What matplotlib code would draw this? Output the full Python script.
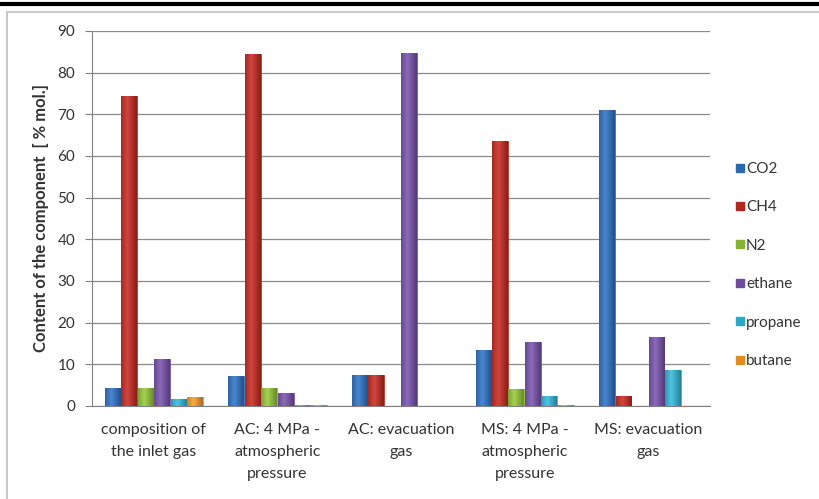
import numpy as np
import matplotlib
matplotlib.use("Agg")
import matplotlib.pyplot as plt
from matplotlib.colors import to_rgb
from matplotlib.lines import Line2D

plt.rcParams['font.family'] = ['Lato', 'DejaVu Sans']

categories = ["composition of\nthe inlet gas", "AC: 4 MPa -\natmospheric\npressure",
              "AC: evacuation\ngas", "MS: 4 MPa -\natmospheric\npressure",
              "MS: evacuation\ngas"]
components = ["CO2", "CH4", "N2", "ethane", "propane", "butane"]

co2 = [4.4, 7.3, 7.4, 13.4, 71.0]
ch4 = [74.5, 84.5, 7.4, 63.5, 2.5]
n2 = [4.2, 4.3, 0.0, 4.0, 0.0]
ethane = [11.2, 3.1, 84.6, 15.3, 16.5]
propane = [1.6, 0.2, 0.0, 2.4, 8.7]
butane = [2.1, 0.2, 0.0, 0.2, 0.0]

series = [co2, ch4, n2, ethane, propane, butane]
colors = ["#2a68b2", "#b3271f", "#86b431", "#6d4c9c", "#2fa6c2", "#e38a26"]

fig = plt.figure(figsize=(8.2, 4.99), dpi=100)
ax = fig.add_axes([0.1122, 0.1864, 0.7537, 0.7515])

x = np.arange(len(categories))
w = 0.8 / len(series)

# soft cylinder-like shading across each bar
grad = np.linspace(0, 1, 64)
shade = np.clip(1 - np.abs(grad - 0.4) * 1.7, 0, 1)

for i, (vals, col) in enumerate(zip(series, colors)):
    xs = x - 0.4 + w * i + w / 2
    bars = ax.bar(xs, vals, width=w * 0.96, color=col, edgecolor=col,
                  linewidth=0.5, zorder=3)
    base = np.array(to_rgb(col))
    light = np.clip(base + 0.12, 0, 1)
    dark = base * 0.78
    img = np.zeros((1, 64, 3))
    for k, s in enumerate(shade):
        img[0, k] = dark + (light - dark) * s
    for b in bars:
        h = b.get_height()
        if h <= 0:
            continue
        im = ax.imshow(img, extent=[b.get_x(), b.get_x() + b.get_width(), 0, h],
                       aspect='auto', zorder=4, interpolation='bilinear')
        im.set_clip_path(b)

ax.set_xlim(-0.5, len(categories) - 0.5)
ax.set_ylim(0, 90)
ax.set_yticks(np.arange(0, 91, 10))
ax.set_xticks(x)
ax.set_xticklabels(categories, fontsize=11.5, color="#333333", linespacing=1.75)
ax.tick_params(axis='x', length=0, pad=12)
ax.tick_params(axis='y', labelsize=11, colors="#333333", length=5,
               color="#808080", pad=7)
ax.yaxis.grid(True, color="#8a8a8a", linewidth=0.9, zorder=0)
ax.set_axisbelow(True)
for s in ['top', 'right']:
    ax.spines[s].set_visible(False)
ax.spines['left'].set_color("#808080")
ax.spines['bottom'].set_color("#808080")
ax.set_ylabel("Content of the component  [ % mol.]", fontsize=12,
              fontweight='bold', color="#333333", labelpad=6)

handles = [Line2D([], [], marker='s', linestyle='none', markersize=6,
                  markerfacecolor=c, markeredgecolor=c) for c in colors]
fig.legend(handles, components, loc='center left', bbox_to_anchor=(0.878, 0.469),
           frameon=False, fontsize=11, labelspacing=1.6, handletextpad=0.0,
           handlelength=0.8, labelcolor="#333333")

# frame of the chart area and top rule
fig.add_artist(Line2D([0, 1], [0.991, 0.991], transform=fig.transFigure,
                      color="black", linewidth=3))
fig.add_artist(Line2D([0.0085, 1], [0.976, 0.976], transform=fig.transFigure,
                      color="#c8c8c8", linewidth=1.5))
fig.add_artist(Line2D([0.0085, 0.0085], [0, 0.976], transform=fig.transFigure,
                      color="#c8c8c8", linewidth=1.5))

fig.savefig("out.png", dpi=100)
